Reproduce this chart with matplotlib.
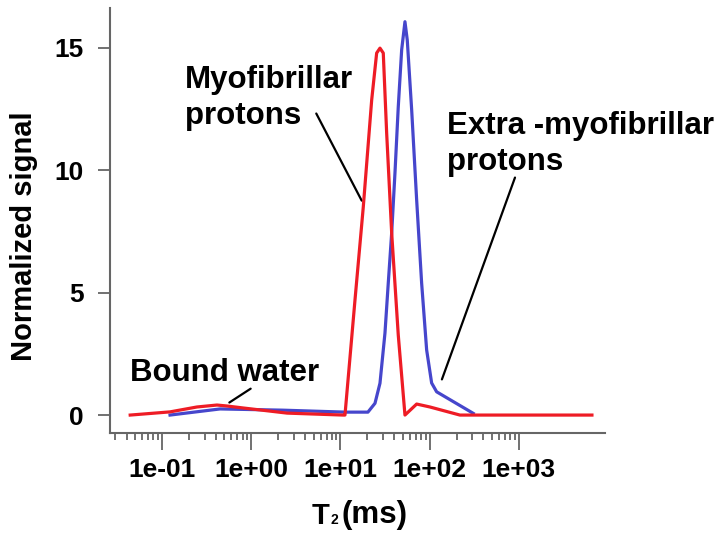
import matplotlib
matplotlib.use("Agg")
from matplotlib import pyplot as plt
from matplotlib.ticker import FixedLocator, FixedFormatter, NullFormatter

plt.rcParams['font.family'] = ['Liberation Sans', 'DejaVu Sans']
plt.rcParams['font.weight'] = 'bold'

# T2 distributions: relaxation time (ms) and normalized amplitude
t2_red = [0.044, 0.123, 0.246, 0.413, 0.535, 0.81, 2.52, 10.7, 11.23, 14.54,
          18.01, 22.37, 25.44, 27.71, 30.17, 32.93, 37.48, 44.42, 52.8, 71.4,
          100.6, 218, 6577]
sig_red = [0.0, 0.13, 0.33, 0.41, 0.37, 0.29, 0.08, 0.0, 0.0, 4.7,
           8.5, 12.87, 14.79, 14.99, 14.79, 11.52, 7.44, 3.27, 0.0, 0.45,
           0.33, 0.0, 0.0]

t2_blue = [0.123, 0.447, 2.27, 11.23, 20.3, 24.36, 27.71, 31.52, 34.32, 37.48,
           40.8, 44.42, 48.5, 52.8, 56.04, 62.8, 71.4, 81.2, 92.4, 105.1,
           119.6, 307.6]
sig_blue = [0.0, 0.25, 0.2, 0.12, 0.12, 0.48, 1.30, 3.35, 5.39, 7.44,
            9.89, 12.59, 14.92, 16.07, 15.32, 12.46, 8.79, 5.39, 2.66, 1.31,
            0.95, 0.07]

major_ticks = [0.1, 1, 10, 100, 1000]
major_labels = ['1e-01', '1e+00', '1e+01', '1e+02', '1e+03']
minor_ticks = [m * d for d in [0.01, 0.1, 1, 10, 100] for m in range(2, 10)
               if m * d > 0.025]
y_ticks = [0, 5, 10, 15]

fig = plt.figure(figsize=(7.23, 5.33), dpi=100)
ax = fig.add_axes([0.1521, 0.1882, 0.6846, 0.7968])

ax.plot(t2_blue, sig_blue, color='#4646cc', lw=2.3, zorder=3)
ax.plot(t2_red, sig_red, color='#ee1c25', lw=2.3, zorder=4)

ax.set_xscale('log')
ax.set_xlim(0.0261, 9200)
ax.set_ylim(-0.72, 16.63)

ax.xaxis.set_major_locator(FixedLocator(major_ticks))
ax.xaxis.set_major_formatter(FixedFormatter(major_labels))
ax.xaxis.set_minor_locator(FixedLocator(minor_ticks))
ax.xaxis.set_minor_formatter(NullFormatter())
ax.set_yticks(y_ticks)

for side in ['top', 'right']:
    ax.spines[side].set_visible(False)
for side in ['left', 'bottom']:
    ax.spines[side].set_color('#666666')
    ax.spines[side].set_linewidth(1.5)

ax.tick_params(axis='x', which='major', length=12, width=1.3, color='#666666',
               pad=6, labelsize=19)
ax.tick_params(axis='x', which='minor', length=5, width=1.3, color='#666666')
ax.tick_params(axis='y', length=8.5, width=1.3, color='#666666', pad=10.5,
               labelsize=19)

# x title built from three pieces so the "2" stays small and on the baseline
xlab = ax.set_xlabel('T', fontsize=21, fontweight='bold')
ax.xaxis.set_label_coords(0.426, -0.163)
sub = ax.annotate('2', xy=(1.0, 0.22), xycoords=xlab, xytext=(0.5, 0),
                  textcoords='offset points', fontsize=10, fontweight='bold',
                  ha='left', va='baseline')
ax.annotate('(ms)', xy=(1.0, 0.0), xycoords=(sub, xlab), xytext=(2.5, 0),
            textcoords='offset points', fontsize=22.5, fontweight='bold',
            ha='left', va='bottom')

ax.set_ylabel('Normalized signal', fontsize=21, fontweight='bold')
ax.yaxis.set_label_coords(-0.145, 0.463)

# peak labels with leader lines
ax.text(0.181, 14.30, 'Myofibrillar\nprotons', fontsize=22.5, fontweight='bold',
        ha='left', va='top', linespacing=1.25)
ax.annotate('', xy=(17.87, 8.66), xytext=(5.18, 12.42),
            arrowprops=dict(arrowstyle='-', lw=1.6, color='black'))

ax.text(156.1, 12.42, 'Extra -myofibrillar\nprotons', fontsize=22.5,
        fontweight='bold', ha='left', va='top', linespacing=1.25)
ax.annotate('', xy=(133.7, 1.35), xytext=(925.6, 9.81),
            arrowprops=dict(arrowstyle='-', lw=1.6, color='black'))

ax.text(0.0438, 2.33, 'Bound water', fontsize=22.5, fontweight='bold',
        ha='left', va='top')
ax.annotate('', xy=(0.535, 0.45), xytext=(1.046, 1.14),
            arrowprops=dict(arrowstyle='-', lw=1.6, color='black'))

fig.savefig('out.png', dpi=100)
